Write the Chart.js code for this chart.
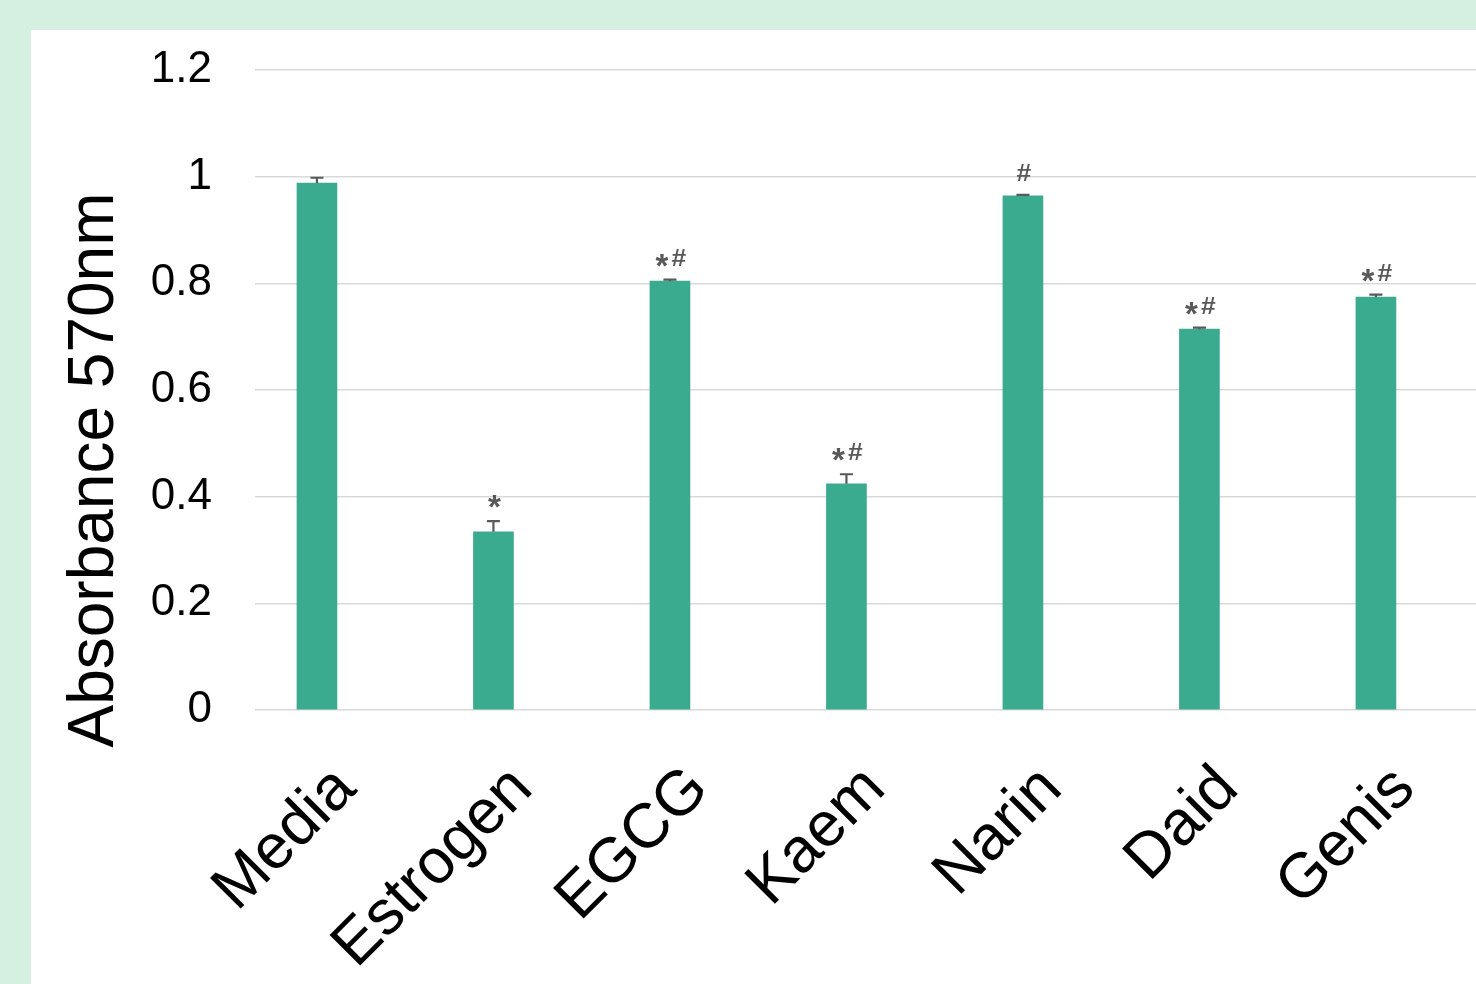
<!DOCTYPE html>
<html><head><meta charset="utf-8">
<script src="https://cdn.jsdelivr.net/npm/chart.js@4.4.1/dist/chart.umd.min.js"></script>
<style>
html,body{margin:0;padding:0;background:#d5f0e1;width:1476px;height:984px;overflow:hidden}
#wrap{position:absolute;left:31px;top:30px;width:1445px;height:954px;background:#ffffff}
canvas{display:block}
</style></head><body>
<div id="wrap"><canvas id="c" width="1445" height="954"></canvas></div>
<script>
const categories = ['Media', 'Estrogen', 'EGCG', 'Kaem', 'Narin', 'Daid', 'Genis'];
const values = [0.988, 0.334, 0.804, 0.424, 0.964, 0.714, 0.774];
const errors = [0.010, 0.020, 0.003, 0.018, 0.002, 0.003, 0.005];
const marks = ['', '*', '*#', '*#', '#', '*#', '*#'];
const yTicks = [0, 0.2, 0.4, 0.6, 0.8, 1.0, 1.2];
const yTitle = 'Absorbance 570nm';

const FONT = '"Liberation Sans", Arial, sans-serif';
const MARK = '#595959';

const extras = {
  id: 'extras',
  afterDatasetsDraw(chart) {
    const {ctx} = chart;
    const x = chart.scales.x, y = chart.scales.y;
    ctx.save();
    values.forEach((v, i) => {
      const px = x.getPixelForValue(i);
      const base = y.getPixelForValue(v);
      const top = y.getPixelForValue(v + errors[i]);
      ctx.strokeStyle = MARK;
      ctx.lineWidth = 2.2;
      ctx.beginPath();
      ctx.moveTo(px, base);
      ctx.lineTo(px, top);
      ctx.moveTo(px - 6.5, top);
      ctx.lineTo(px + 6.5, top);
      ctx.stroke();
      const m = marks[i];
      if (!m) return;
      const baseline = top - 14;
      ctx.fillStyle = MARK;
      ctx.textBaseline = 'alphabetic';
      ctx.textAlign = 'center';
      const chars = m.split('');
      const offs = chars.length === 2 ? [-8, 9] : [1];
      chars.forEach((ch, k) => {
        if (ch === '*') {
          ctx.font = 'bold 33px ' + FONT;
          ctx.fillText(ch, px + offs[k], baseline + 11);
        } else {
          ctx.save();
          ctx.font = 'bold 23px ' + FONT;
          ctx.translate(px + offs[k], baseline);
          ctx.scale(1.15, 1);
          ctx.fillText(ch, 0, 0);
          ctx.restore();
        }
      });
    });
    // y axis title
    ctx.fillStyle = '#000';
    ctx.font = '64px ' + FONT;
    ctx.textAlign = 'center';
    ctx.textBaseline = 'middle';
    ctx.translate(64, 440);
    ctx.rotate(-Math.PI / 2);
    ctx.fillText(yTitle, 0, 0);
    ctx.restore();
  }
};

new Chart(document.getElementById('c'), {
  type: 'bar',
  data: {
    datasets: [{
      data: values.map((v, i) => ({x: i, y: v})),
      backgroundColor: '#3bab8f',
      borderWidth: 0,
      barThickness: 40
    }]
  },
  options: {
    responsive: false,
    animation: false,
    devicePixelRatio: 1,
    layout: {padding: {left: 0, right: 0, top: 40, bottom: 0}},
    plugins: {legend: {display: false}, tooltip: {enabled: false}},
    scales: {
      x: {
        type: 'linear',
        offset: false,
        min: -0.351,
        max: 6.567,
        grid: {display: false, drawTicks: false, offset: false},
        border: {display: false},
        afterBuildTicks: s => { s.ticks = categories.map((_, i) => ({value: i})); },
        afterFit: s => { s.height = 274; s.paddingLeft = 0; s.paddingRight = 0; },
        ticks: {
          autoSkip: false, minRotation: 45, maxRotation: 45, padding: 42, labelOffset: 29,
          color: '#000', font: {family: FONT, size: 63},
          callback: v => categories[v]
        }
      },
      y: {
        min: 0,
        max: 1.2,
        afterBuildTicks: s => { s.ticks = yTicks.map(v => ({value: v})); },
        afterFit: s => { s.width = 224; s.paddingTop = 0; s.paddingBottom = 0; },
        grid: {color: '#d9d9d9', lineWidth: 1.5, drawTicks: false},
        border: {display: false},
        ticks: {
          padding: 43, color: '#000', font: {family: FONT, size: 44},
          callback: v => String(parseFloat(Number(v).toFixed(1)))
        }
      }
    }
  },
  plugins: [extras]
});
</script>
</body></html>
